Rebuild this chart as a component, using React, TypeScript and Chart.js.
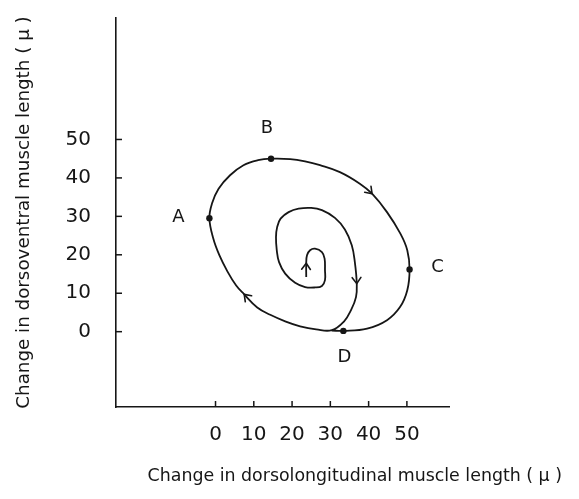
import React, { useEffect, useRef } from "react";
import { Chart, registerables } from "chart.js";

Chart.register(...registerables);

// ---- data ----
const xTickValues = [0, 10, 20, 30, 40, 50];
const yTickValues = [0, 10, 20, 30, 40, 50];

// spiral path (change in dorsolongitudinal length, change in dorsoventral length)
const pathX = [
  23.7, 23.7, 23.9, 24.7, 26.0, 27.8, 28.5, 28.6, 28.6, 27.8, 26.0, 23.4, 20.8, 18.2, 16.6, 16.0,
  15.8, 16.1, 17.0, 19.1, 21.7, 25.0, 27.8, 31.2, 33.8, 35.6, 36.4, 36.9, 36.7, 35.4, 33.6, 30.4,
  26.3, 22.1, 18.2, 14.3, 10.9, 7.5, 5.4, 3.1, 1.0, -0.6, -1.6, -0.9, 0.8, 3.8, 7.3, 11.1,
  14.5, 19.5, 23.4, 27.3, 32.5, 37.7, 40.9, 44.8, 48.3, 50.1, 50.7, 50.1, 48.2, 44.8, 39.6, 33.4,
  30.4,
];
const pathY = [
  14.2, 17.8, 19.9, 21.2, 21.6, 20.7, 19.0, 16.0, 13.4, 11.9, 11.5, 11.6, 12.7, 15.1, 18.1, 21.2,
  24.6, 27.2, 29.4, 31.1, 32.0, 32.2, 31.6, 29.6, 26.6, 22.5, 18.1, 12.5, 9.0, 5.6, 2.7, 0.4,
  0.6, 1.4, 2.7, 4.4, 6.3, 9.7, 12.0, 15.7, 19.9, 24.3, 29.5, 33.4, 37.2, 40.7, 43.3, 44.6,
  45.0, 44.9, 44.3, 43.3, 41.5, 38.5, 35.9, 31.1, 25.5, 21.2, 16.2, 10.8, 6.4, 3.0, 0.8, 0.2,
  0.3,
];
// indices of the path where direction arrowheads sit
const arrowIndices = [1, 27, 37, 54];

// marked phases
const keyLabels = ["A", "B", "C", "D"];
const keyX = [-1.6, 14.5, 50.7, 33.4];
const keyY = [29.5, 45.0, 16.2, 0.2];

const xTitle = "Change in dorsolongitudinal muscle length ( μ )";
const yTitle = "Change in dorsoventral muscle length ( μ )";

const INK = "#161616";
const FONT = "'DejaVu Sans', sans-serif";

const marksPlugin = {
  id: "marks",
  afterDatasetsDraw(chart: any) {
    const ctx = chart.ctx;
    const pts = chart.getDatasetMeta(0).data;
    const xs = chart.scales.x;
    const ys = chart.scales.y;
    ctx.save();
    ctx.strokeStyle = INK;
    ctx.lineCap = "round";
    ctx.lineJoin = "round";
    // arrowheads
    ctx.lineWidth = 1.6;
    arrowIndices.forEach((i) => {
      const a = pts[i - 1], b = pts[i], c = pts[i + 1];
      const ang = Math.atan2(c.y - a.y, c.x - a.x);
      const L = 7.5, spread = 0.62;
      ctx.beginPath();
      ctx.moveTo(b.x - L * Math.cos(ang - spread), b.y - L * Math.sin(ang - spread));
      ctx.lineTo(b.x, b.y);
      ctx.lineTo(b.x - L * Math.cos(ang + spread), b.y - L * Math.sin(ang + spread));
      ctx.stroke();
    });
    // inward tick marks
    ctx.lineWidth = 1.5;
    ctx.lineCap = "butt";
    xs.ticks.forEach((t: any) => {
      const p = xs.getPixelForValue(t.value);
      ctx.beginPath();
      ctx.moveTo(p, xs.top);
      ctx.lineTo(p, xs.top - 6);
      ctx.stroke();
    });
    ys.ticks.forEach((t: any) => {
      const p = ys.getPixelForValue(t.value);
      ctx.beginPath();
      ctx.moveTo(ys.right, p);
      ctx.lineTo(ys.right + 6, p);
      ctx.stroke();
    });
    // phase letters
    const offsets = [
      [-31, -1],
      [-4, -30],
      [28, -2],
      [1, 26],
    ];
    ctx.fillStyle = INK;
    ctx.font = "18px " + FONT;
    ctx.textAlign = "center";
    ctx.textBaseline = "middle";
    keyLabels.forEach((t, i) => {
      const px = xs.getPixelForValue(keyX[i]) + offsets[i][0];
      const py = ys.getPixelForValue(keyY[i]) + offsets[i][1];
      ctx.fillText(t, px, py);
    });
    ctx.restore();
  },
};

export default function App() {
  const ref = useRef<HTMLCanvasElement | null>(null);

  useEffect(() => {
    if (!ref.current) return;
    Chart.defaults.font.family = FONT;
    const chart = new Chart(ref.current, {
      type: "scatter",
      data: {
        datasets: [
          {
            data: pathX.map((x, i) => ({ x, y: pathY[i] })),
            showLine: true,
            borderColor: INK,
            borderWidth: 1.8,
            pointRadius: 0,
            tension: 0.4,
            fill: false,
          },
          {
            data: keyX.map((x, i) => ({ x, y: keyY[i] })),
            showLine: false,
            pointRadius: 3.2,
            pointBackgroundColor: INK,
            pointBorderColor: INK,
            pointBorderWidth: 0,
          },
        ],
      },
      options: {
        responsive: false,
        devicePixelRatio: 1,
        animation: false,
        layout: { padding: { top: 18, right: 17, bottom: 0, left: 0 } },
        plugins: {
          legend: { display: false },
          tooltip: { enabled: false },
          title: {
            display: true,
            position: "bottom",
            align: "end",
            fullSize: true,
            text: xTitle,
            color: INK,
            font: { size: 17.4, weight: "normal", family: FONT, lineHeight: 1.2 },
            padding: { top: 0, bottom: 12 },
          },
        },
        scales: {
          x: {
            type: "linear",
            position: "bottom",
            min: -26,
            max: 61,
            afterBuildTicks: (s: any) => {
              s.ticks = xTickValues.map((v) => ({ value: v }));
            },
            afterFit: (s: any) => {
              s.height = 59.1;
              s.paddingLeft = 0;
              s.paddingRight = 0;
            },
            grid: { display: false, drawTicks: false },
            border: { display: true, color: INK, width: 1.6 },
            ticks: { color: INK, font: { size: 20, family: FONT }, padding: 16, maxRotation: 0 },
          },
          y: {
            type: "linear",
            position: "left",
            min: -19.6,
            max: 81.6,
            afterBuildTicks: (s: any) => {
              s.ticks = yTickValues.map((v) => ({ value: v }));
            },
            afterFit: (s: any) => {
              s.width = 116;
              s.paddingTop = 0;
              s.paddingBottom = 0;
            },
            grid: { display: false, drawTicks: false },
            border: { display: true, color: INK, width: 1.6 },
            ticks: { color: INK, font: { size: 20, family: FONT }, padding: 25 },
            title: {
              display: true,
              text: yTitle,
              color: INK,
              font: { size: 18.3, family: FONT, lineHeight: 1.2 },
              padding: { top: 13, bottom: 0 },
            },
          },
          yRight: {
            type: "linear",
            position: "right",
            display: true,
            afterFit: (s: any) => {
              s.width = 113;
              s.paddingTop = 0;
              s.paddingBottom = 0;
            },
            grid: { display: false, drawTicks: false },
            border: { display: false },
            ticks: { display: false },
          },
        },
      },
      plugins: [marksPlugin],
    } as any);
    return () => chart.destroy();
  }, []);

  return (
    <div style={{ position: "absolute", left: 0, top: 0, width: 579, height: 499, background: "#fff" }}>
      <canvas ref={ref} width={579} height={499} style={{ display: "block", width: 579, height: 499 }} />
    </div>
  );
}
